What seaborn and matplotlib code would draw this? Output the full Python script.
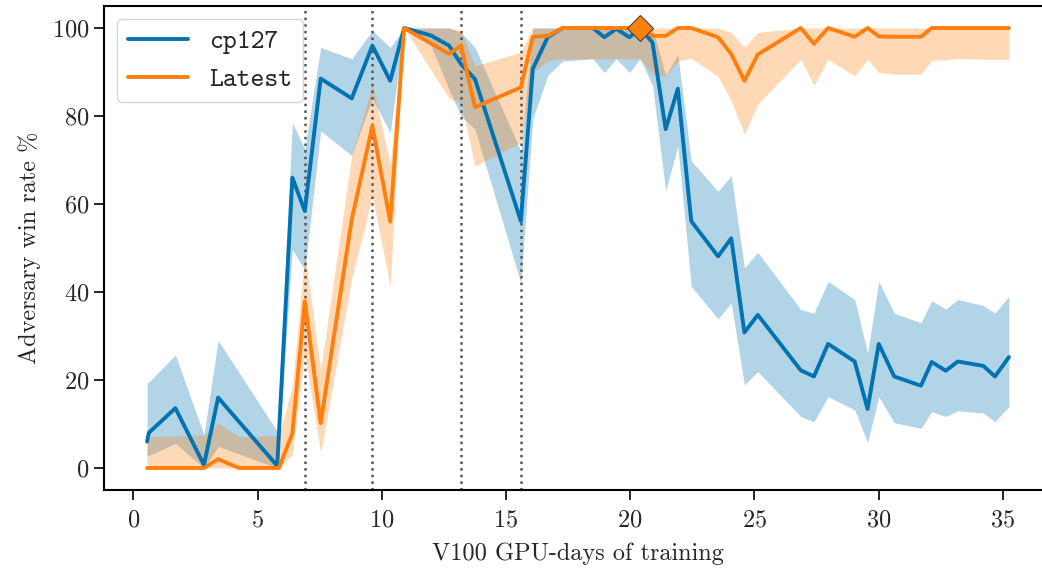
import matplotlib
matplotlib.use("Agg")
import matplotlib.pyplot as plt
import seaborn as sns
import pandas as pd

# cp127 run: mean win rate and band
x_cp127 = [0.55, 0.62, 1.69, 2.84, 3.41, 5.79, 6.40, 6.90, 7.54, 8.79,
           9.62, 10.34, 10.90, 11.98, 12.71, 13.19, 13.75, 15.60, 16.08, 16.68,
           17.28, 18.50, 18.96, 19.44, 19.97, 20.40, 20.90, 21.43, 21.92, 22.46,
           23.54, 24.07, 24.60, 25.14, 26.87, 27.40, 27.97, 29.04, 29.56, 30.01,
           30.63, 31.71, 32.14, 32.71, 33.19, 34.22, 34.69, 35.25]
cp127_mean = [6, 8, 13.6, 0.7, 16, 0.5, 66, 58.4, 88.5, 84,
              96, 88, 100, 98.3, 96, 91.8, 88.4, 56.1, 90.7, 97.9,
              100, 100, 97.9, 99.8, 97.9, 100, 96.7, 77, 86.2, 56.1,
              48.1, 52.2, 30.8, 34.8, 22.2, 20.8, 28.2, 24.2, 13.4, 28.2,
              20.8, 18.7, 24.1, 22.1, 24.2, 23.2, 20.8, 25.2]
cp127_low = [2.6, 2.8, 5.6, 0, 4.9, 0, 49.7, 45, 76.6, 71,
             84, 76.2, 100, 96, 86, 80, 77, 42, 79.3, 89.2,
             92.5, 93, 89.9, 93, 89.9, 93, 87, 63, 73.2, 41.3,
             33.9, 37.5, 18.9, 21.9, 11.7, 10.5, 16.2, 13.2, 5.8, 16.2,
             10.3, 9, 12.8, 11.7, 13, 12.5, 10.5, 14]
cp127_high = [19.3, 19.5, 25.7, 7.5, 29, 8.3, 78.5, 72.5, 95.6, 93,
              99.4, 95.6, 100, 100, 100, 99, 95.6, 72, 100, 100,
              100, 100, 100, 100, 100, 100, 100, 89.2, 94, 69.8,
              62.9, 66.4, 45.5, 49, 36, 35.2, 42.4, 38.3, 26.1, 42.4,
              35.2, 33, 38, 36.1, 38.3, 36.9, 35.2, 39]

# Latest run
x_latest = [0.55, 1.69, 2.84, 3.41, 4.25, 5.86, 6.40, 6.90, 7.54, 8.79,
            9.62, 10.34, 10.90, 12.71, 13.19, 13.75, 15.60, 16.08, 16.68, 17.28,
            18.50, 19.97, 20.40, 20.90, 21.43, 21.92, 22.46, 23.54, 24.07, 24.60,
            25.14, 26.87, 27.40, 27.97, 29.04, 29.56, 30.01, 30.63, 31.71, 32.14,
            32.71, 33.19, 34.22, 34.69, 35.25]
latest_mean = [0, 0, 0, 2, 0, 0, 7.9, 37.9, 10.2, 56.5,
               77.7, 56, 100, 94.1, 96, 82, 86.5, 98, 98.2, 100,
               100, 100, 100, 98.2, 98.2, 100, 100, 97.9, 94.1, 88,
               94, 100, 96.4, 100, 98, 100, 98.1, 98, 98, 100,
               100, 100, 100, 100, 100]
latest_low = [0, 0, 0, 0, 0, 0, 3, 26, 3.4, 43,
              61.8, 41.3, 100, 84, 83, 68.6, 74, 90, 92.5, 93,
              93, 93, 93, 89.5, 89, 92.5, 93.1, 89, 83.4, 75.9,
              82.7, 92.9, 87, 92.9, 89.1, 92.9, 89.9, 89.5, 89.5, 92.7,
              92.7, 93.1, 92.9, 92.9, 92.9]
latest_high = [7.1, 7.3, 7.4, 10.2, 7.1, 7.4, 18.5, 49, 22.3, 71,
               87.2, 69, 100, 100, 99.4, 91.4, 94.5, 100, 100, 100,
               100, 100, 100, 100, 100, 100, 100, 100, 99, 95.6,
               99, 100, 100, 100, 100, 100, 100, 100, 100, 100,
               100, 100, 100, 100, 100]

run_names = ['cp127', 'Latest']
run_colors = ['#0173b2', '#ff7f0e']
checkpoint_days = [6.90, 9.62, 13.19, 15.60]
best_day = [20.40]
best_rate = [100]

df = pd.concat([
    pd.DataFrame({'days': x_cp127, 'win': cp127_mean, 'low': cp127_low,
                  'high': cp127_high, 'run': 'cp127'}),
    pd.DataFrame({'days': x_latest, 'win': latest_mean, 'low': latest_low,
                  'high': latest_high, 'run': 'Latest'}),
], ignore_index=True)

sns.set_style('ticks')
plt.rcParams['font.family'] = ['cmr10', 'DejaVu Serif']
plt.rcParams['mathtext.fontset'] = 'cm'
plt.rcParams['axes.formatter.use_mathtext'] = True
plt.rcParams['axes.unicode_minus'] = False

fig = plt.figure(figsize=(10.42, 5.71), dpi=100)
ax = fig.add_axes([0.0998, 0.1419, 0.9098, 0.8476])

palette = dict(zip(run_names, run_colors))
sns.lineplot(data=df, x='days', y='win', hue='run', palette=palette,
             estimator=None, sort=False, linewidth=2.8, ax=ax)

for name in run_names:
    sub = df[df['run'] == name]
    ax.fill_between(sub['days'], sub['low'], sub['high'],
                    color=palette[name], alpha=0.3, linewidth=0)

for d in checkpoint_days:
    ax.axvline(d, color='#555555', linestyle=':', linewidth=1.8, zorder=1.5)

ax.plot(best_day, best_rate, marker='D', markersize=13, color=run_colors[1],
        markeredgecolor='#444444', markeredgewidth=0.8, linestyle='none', zorder=5)

ax.set_xlabel('V100 GPU-days of training', fontsize=17.5, labelpad=8)
ax.set_ylabel('Adversary win rate %', fontsize=17.5, labelpad=8)
ax.tick_params(labelsize=17.5, length=7, width=1.4, direction='out')
ax.tick_params(axis='x', pad=7)
for s in ax.spines.values():
    s.set_linewidth(1.5)
    s.set_color('black')
ax.spines['right'].set_visible(False)

handles, labels = ax.get_legend_handles_labels()
ax.legend(handles[:2], labels[:2], loc='upper left',
          prop={'family': 'cmtt10', 'size': 19}, handlelength=2.3,
          frameon=True, fancybox=True, edgecolor='#cccccc', framealpha=0.8)

fig.savefig('out.png', dpi=100)
